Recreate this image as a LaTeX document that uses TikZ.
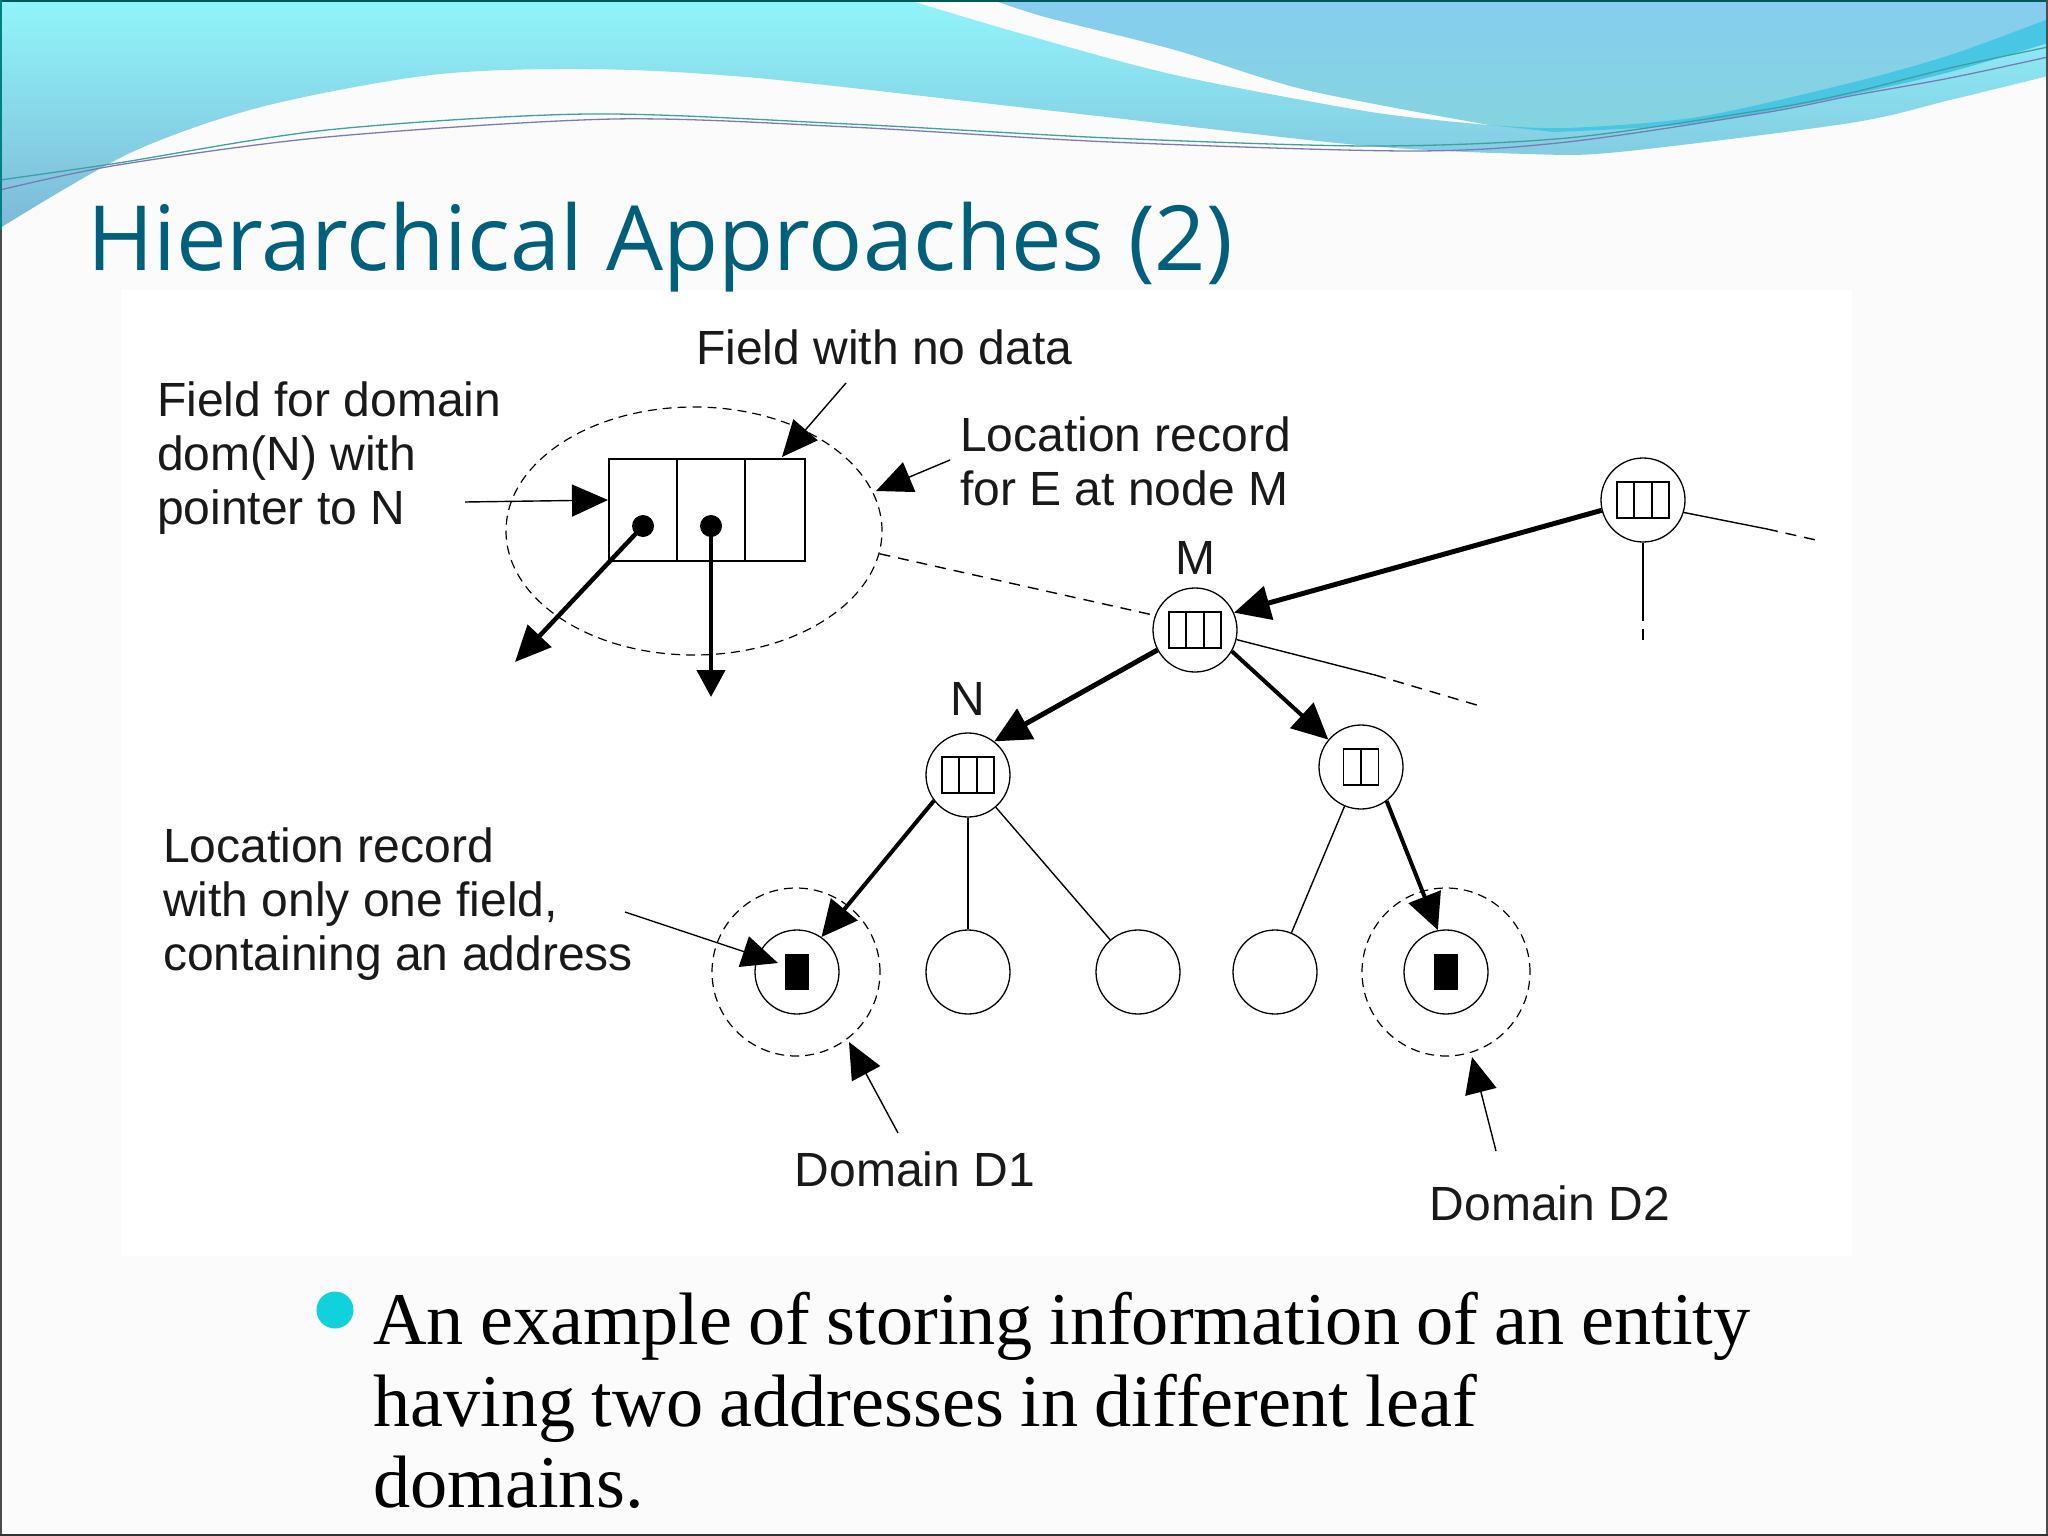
\documentclass[tikz,border=0pt]{standalone}
\usepackage{fontspec}
\setmainfont{Liberation Sans}
\newfontfamily\titlefont{Open Sans}
\newfontfamily\bodyfont{Liberation Serif}
\usetikzlibrary{arrows.meta, shapes.geometric}
\definecolor{slidebg}{RGB}{251,251,252}
\definecolor{titleblue}{RGB}{0,95,122}
\definecolor{bulletcyan}{RGB}{15,210,220}
\definecolor{ribbon}{RGB}{72,198,228}
\definecolor{wavetop}{RGB}{145,245,250}
\definecolor{wavemid}{RGB}{125,222,236}
\definecolor{wavelow}{RGB}{125,185,215}
\definecolor{skytop}{RGB}{135,205,240}
\definecolor{skylow}{RGB}{132,212,222}
\tikzset{treenode/.style={draw,circle,minimum size=84pt,inner sep=0pt,line width=1.3pt},
         domainring/.style={draw,circle,minimum size=168pt,inner sep=0pt,line width=1.2pt,dash pattern=on 9pt off 6pt},
         fieldbox/.style={draw,minimum width=52pt,minimum height=36pt,inner sep=0pt,line width=1.3pt},
         addrbox/.style={fill=black,minimum width=24pt,minimum height=36pt,inner sep=0pt},
         tinydot/.style={fill=black,circle,minimum size=22pt,inner sep=0pt},
         annot/.style={font=\fontsize{48}{54}\selectfont,align=left,anchor=west,inner sep=0pt,text=black!90},
         thin arrow/.style={line width=1.4pt,-{Triangle[length=36pt,width=32pt]}},
         thick arrow/.style={line width=5pt,-{Triangle[length=36pt,width=34pt]}},
         plain link/.style={line width=1.4pt},
         dash link/.style={line width=1.4pt,dash pattern=on 11pt off 8pt},
        }
\begin{document}
\begin{tikzpicture}[x=1pt,y=-1pt]
        \useasboundingbox(0,0)rectangle(2048,1536);
        \fill[slidebg](0,0)rectangle(2048,1536);
        \shade[top color=wavetop,middle color=wavemid,bottom color=wavelow](0,0)--(908,0)
            --plot[smooth]coordinates{(908,0)(1019,33)(1175,75)(1371,112)(1489,125)}
            --(2048,20)--(2048,76)
            --plot[smooth]coordinates{(2048,76)(1950,100)(1850,123)(1619,152)(1528,154)(1358,145)(1045,110)(757,78)(588,69)(431,75)(261,107)(130,153)(0,228)}
            --cycle;
        \shade[top color=skytop,bottom color=skylow](993,0)--(2048,0)--(2048,19)
            --plot[smooth]coordinates{(2048,19)(1950,55)(1850,83)(1698,117)(1567,128)(1489,125)}
            --plot[smooth]coordinates{(1489,125)(1306,90)(1175,50)(1045,17)(993,0)}--cycle;
        \fill[ribbon](1489,125)
            --plot[smooth]coordinates{(1489,125)(1567,128)(1698,117)(1850,83)(1950,55)(2048,19)}
            --(2048,43)
            --plot[smooth]coordinates{(2048,43)(1950,72)(1850,95)(1700,123)(1554,132)}--cycle;
        \draw[teal!75,line width=1.3pt]plot[smooth]coordinates{(0,180)(118,163)(327,130)(588,114)(849,124)(1110,138)(1371,146)(1567,138)(1763,110)(1850,93)(1950,68)(2048,47)};
        \draw[blue!30!gray!80,line width=1.3pt]plot[smooth]coordinates{(0,190)(118,165)(327,137)(614,119)(849,127)(1110,142)(1410,151)(1567,142)(1763,113)(1850,96)(1950,78)(2048,57)};
        \draw[teal!70!black,line width=3pt](0,1)--(2048,1);
        \draw[teal,line width=2pt](1,0)--(1,230);
        \draw[black!70,line width=2pt](1,230)--(1,1536);
        \draw[black!70,line width=2pt](2047,0)--(2047,1536);
        \draw[black!80,line width=2pt](0,1535)--(2048,1535);
        \fill[white](121,290)rectangle(1852,1256);
        \node[font=\titlefont\fontsize{90}{100}\selectfont,text=titleblue,anchor=base west,inner sep=0pt](title)at(87,270){Hierarchical Approaches (2)};
        \node[fill=bulletcyan,circle,minimum size=37pt,inner sep=0pt](bullet)at(335,1310){};
        \node[font=\bodyfont\fontsize{74.3}{81.5}\selectfont,align=left,anchor=north west,inner sep=0pt,text width=1500pt](caption)at(373,1292){\spaceskip=.22em An example of storing information of an entity\\having two addresses in different leaf\\domains.};

        \node[annot](nodata)at(696,347){Field with no data};
        \node[annot](domfield)at(157,458){Field for domain\\dom(N) with\\pointer to N};
        \node[annot](locM)at(960,461){Location record\\for E at node M};
        \node[annot](onefield)at(163,904){Location record\\with only one field,\\containing an address};
        \node[annot,anchor=center](d1)at(915,1169){Domain D1};
        \node[annot,anchor=center](d2)at(1550,1203){Domain D2};

        \node[draw,ellipse,minimum width=376pt,minimum height=248pt,inner sep=0pt,line width=1.2pt,dash pattern=on 9pt off 6pt](locrec)at(694,531){};
        \node[draw,minimum width=196pt,minimum height=102pt,inner sep=0pt,line width=1.4pt](rec)at(707,510){};
        \draw[line width=1.4pt](677,459)--(677,561);
        \draw[line width=1.4pt](745,459)--(745,561);
        \node[tinydot](dotA)at(643,526){};
        \node[tinydot](dotB)at(711,526){};
        \coordinate(tipA)at(515,662);
        \coordinate(tipB)at(711,697);
        \draw[line width=4.5pt,-{Triangle[length=36pt,width=32pt]}](dotA.center)--(tipA);
        \draw[line width=4.5pt,-{Triangle[length=27pt,width=28pt]}](dotB.center)--(tipB);

        \node[treenode,label={[font=\fontsize{48}{54}\selectfont,text=black!90,label distance=9pt]above:M}](M)at(1195,630){};
        \node[treenode](top)at(1643,500){};
        \node[treenode,label={[font=\fontsize{48}{54}\selectfont,text=black!90,label distance=13pt]above:N}](N)at(968,775){};
        \node[treenode](R)at(1361,767){};
        \foreach \n/\x in {L1/797,L2/968,L3/1138,L4/1275,L5/1446}
            \node[treenode](\n)at(\x,972){};
        \node[domainring](D1)at(796,972){};
        \node[domainring](D2)at(1446,972){};
        \node[addrbox](addrA)at(L1){};
        \node[addrbox](addrB)at(L5){};
        \foreach \n in {M,top,N}{
            \node[fieldbox](box\n)at(\n){};
            \draw[line width=1.3pt](\n)+(-9,-18)--+(-9,18);
            \draw[line width=1.3pt](\n)+(9,-18)--+(9,18);
        }
        \node[fieldbox,minimum width=35pt](boxR)at(R){};
        \draw[line width=1.3pt](R)+(0,-18)--+(0,18);

        \draw[thick arrow](top.194)--(M.24);
        \draw[thick arrow](M.208)--(N.52);
        \draw[thick arrow,line width=4pt](M.-30)--(R.140);
        \draw[thick arrow,line width=4pt](N.217)--(L1.55);
        \draw[thick arrow,line width=4pt](R.-53)--(L5.101);
        \draw[plain link](N)--(L2);
        \draw[plain link](N)--(L3);
        \draw[plain link](R)--(L4);

        \coordinate(topA)at(1767,529);
        \coordinate(topB)at(1816,540);
        \coordinate(topC)at(1643,610);
        \coordinate(topD)at(1643,647);
        \coordinate(mA)at(1375,675);
        \coordinate(mB)at(1480,706);
        \draw[plain link](top.-17)--(topA);
        \draw[dash link](topA)--(topB);
        \draw[plain link](top)--(topC);
        \draw[dash link](topC)--(topD);
        \draw[plain link](M.-13)--(mA);
        \draw[dash link](mA)--(mB);
        \draw[dash link](locrec.-7)--(M.160);

        \coordinate(nodataS)at(846,383);
        \coordinate(nodataT)at(782,457);
        \coordinate(locMS)at(950,460);
        \coordinate(locMT)at(876,491);
        \coordinate(domS)at(465,502);
        \coordinate(domT)at(608,500);
        \coordinate(oneS)at(625,912);
        \coordinate(oneT)at(778,963);
        \coordinate(d1S)at(898,1133);
        \coordinate(d1T)at(849,1042);
        \coordinate(d2S)at(1496,1151);
        \coordinate(d2T)at(1472,1057);
        \draw[thin arrow](nodataS)--(nodataT);
        \draw[thin arrow](locMS)--(locMT);
        \draw[thin arrow](domS)--(domT);
        \draw[thin arrow](oneS)--(oneT);
        \draw[thin arrow](d1S)--(d1T);
        \draw[thin arrow](d2S)--(d2T);
    \end{tikzpicture}
\end{document}
